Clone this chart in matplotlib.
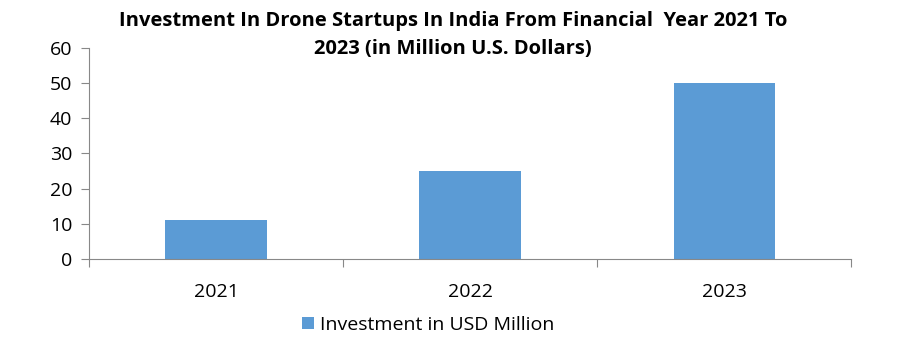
import matplotlib.pyplot as plt
import numpy as np

years = ['2021', '2022', '2023']
investment = [11, 25, 50]
y_ticks = [0, 10, 20, 30, 40, 50, 60]

plt.rcParams['font.family'] = ['Open Sans', 'DejaVu Sans']

fig = plt.figure(figsize=(9, 3.43), dpi=100)
ax = fig.add_axes([0.099, 0.245, 0.847, 0.615])

x = np.arange(len(years))
ax.bar(x, investment, width=0.4, color='#5b9bd5', label='Investment in USD Million')

ax.set_xlim(-0.5, len(years) - 0.5)
ax.set_ylim(0, 60)
ax.set_yticks(y_ticks)
ax.set_yticklabels([str(t) for t in y_ticks], fontsize=14)

# category labels sit between the boundary ticks
ax.set_xticks(np.arange(len(years) + 1) - 0.5)
ax.set_xticklabels([])
ax.set_xticks(x, minor=True)
ax.set_xticklabels(years, minor=True, fontsize=14)
ax.tick_params(axis='x', which='minor', length=0, pad=17)
ax.tick_params(axis='x', which='major', length=6, color='#888888', direction='out')
ax.tick_params(axis='y', length=6, color='#888888', direction='out', pad=6)

for side in ['top', 'right']:
    ax.spines[side].set_visible(False)
for side in ['left', 'bottom']:
    ax.spines[side].set_color('#888888')

fig.text(0.503, 0.897, 'Investment In Drone Startups In India From Financial  Year 2021 To\n2023 (in Million U.S. Dollars)',
         ha='center', va='center', fontsize=14.5, fontweight='bold', linespacing=1.55)

fig.legend(loc='center', bbox_to_anchor=(0.476, 0.052), frameon=False, fontsize=14,
           handlelength=0.6, handleheight=0.6, handletextpad=0.3)

fig.savefig('out.png', dpi=100)
